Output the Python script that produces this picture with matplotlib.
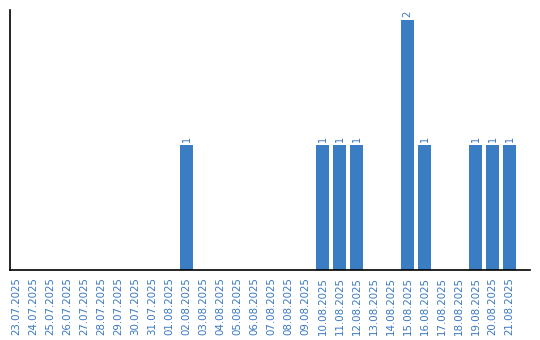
import matplotlib
matplotlib.use('Agg')
import matplotlib.pyplot as plt
import numpy as np

# daily counts, 23.07.2025 - 21.08.2025
dates = ['23.07.2025', '24.07.2025', '25.07.2025', '26.07.2025', '27.07.2025',
         '28.07.2025', '29.07.2025', '30.07.2025', '31.07.2025', '01.08.2025',
         '02.08.2025', '03.08.2025', '04.08.2025', '05.08.2025', '06.08.2025',
         '07.08.2025', '08.08.2025', '09.08.2025', '10.08.2025', '11.08.2025',
         '12.08.2025', '13.08.2025', '14.08.2025', '15.08.2025', '16.08.2025',
         '17.08.2025', '18.08.2025', '19.08.2025', '20.08.2025', '21.08.2025']
counts = [0, 0, 0, 0, 0, 0, 0, 0, 0, 0,
          1, 0, 0, 0, 0, 0, 0, 0, 1, 1,
          1, 0, 0, 2, 1, 0, 0, 1, 1, 1]

bar_color = '#3a7dc2'
text_color = '#3a78c0'

fig = plt.figure(figsize=(5.4, 3.4), dpi=100)
ax = fig.add_axes([0.0194, 0.206, 0.9621, 0.7646])

x = np.arange(len(dates))
ax.bar(x, counts, width=0.78, color=bar_color)

for xi, c in zip(x, counts):
    if c > 0:
        ax.text(xi, c + 0.02, str(c), rotation=90, ha='center', va='bottom',
                fontsize=7, color=text_color)

ax.set_xlim(-0.35, 30.2)
ax.set_ylim(0, 2.08)
ax.set_xticks(x)
ax.set_xticklabels(dates, rotation=90, fontsize=7.4, color=text_color)
ax.tick_params(axis='x', length=0, pad=5)
ax.set_yticks([])
ax.spines['top'].set_visible(False)
ax.spines['right'].set_visible(False)
ax.spines['left'].set_linewidth(1.2)
ax.spines['bottom'].set_linewidth(1.2)

fig.savefig('out.png', dpi=100)
